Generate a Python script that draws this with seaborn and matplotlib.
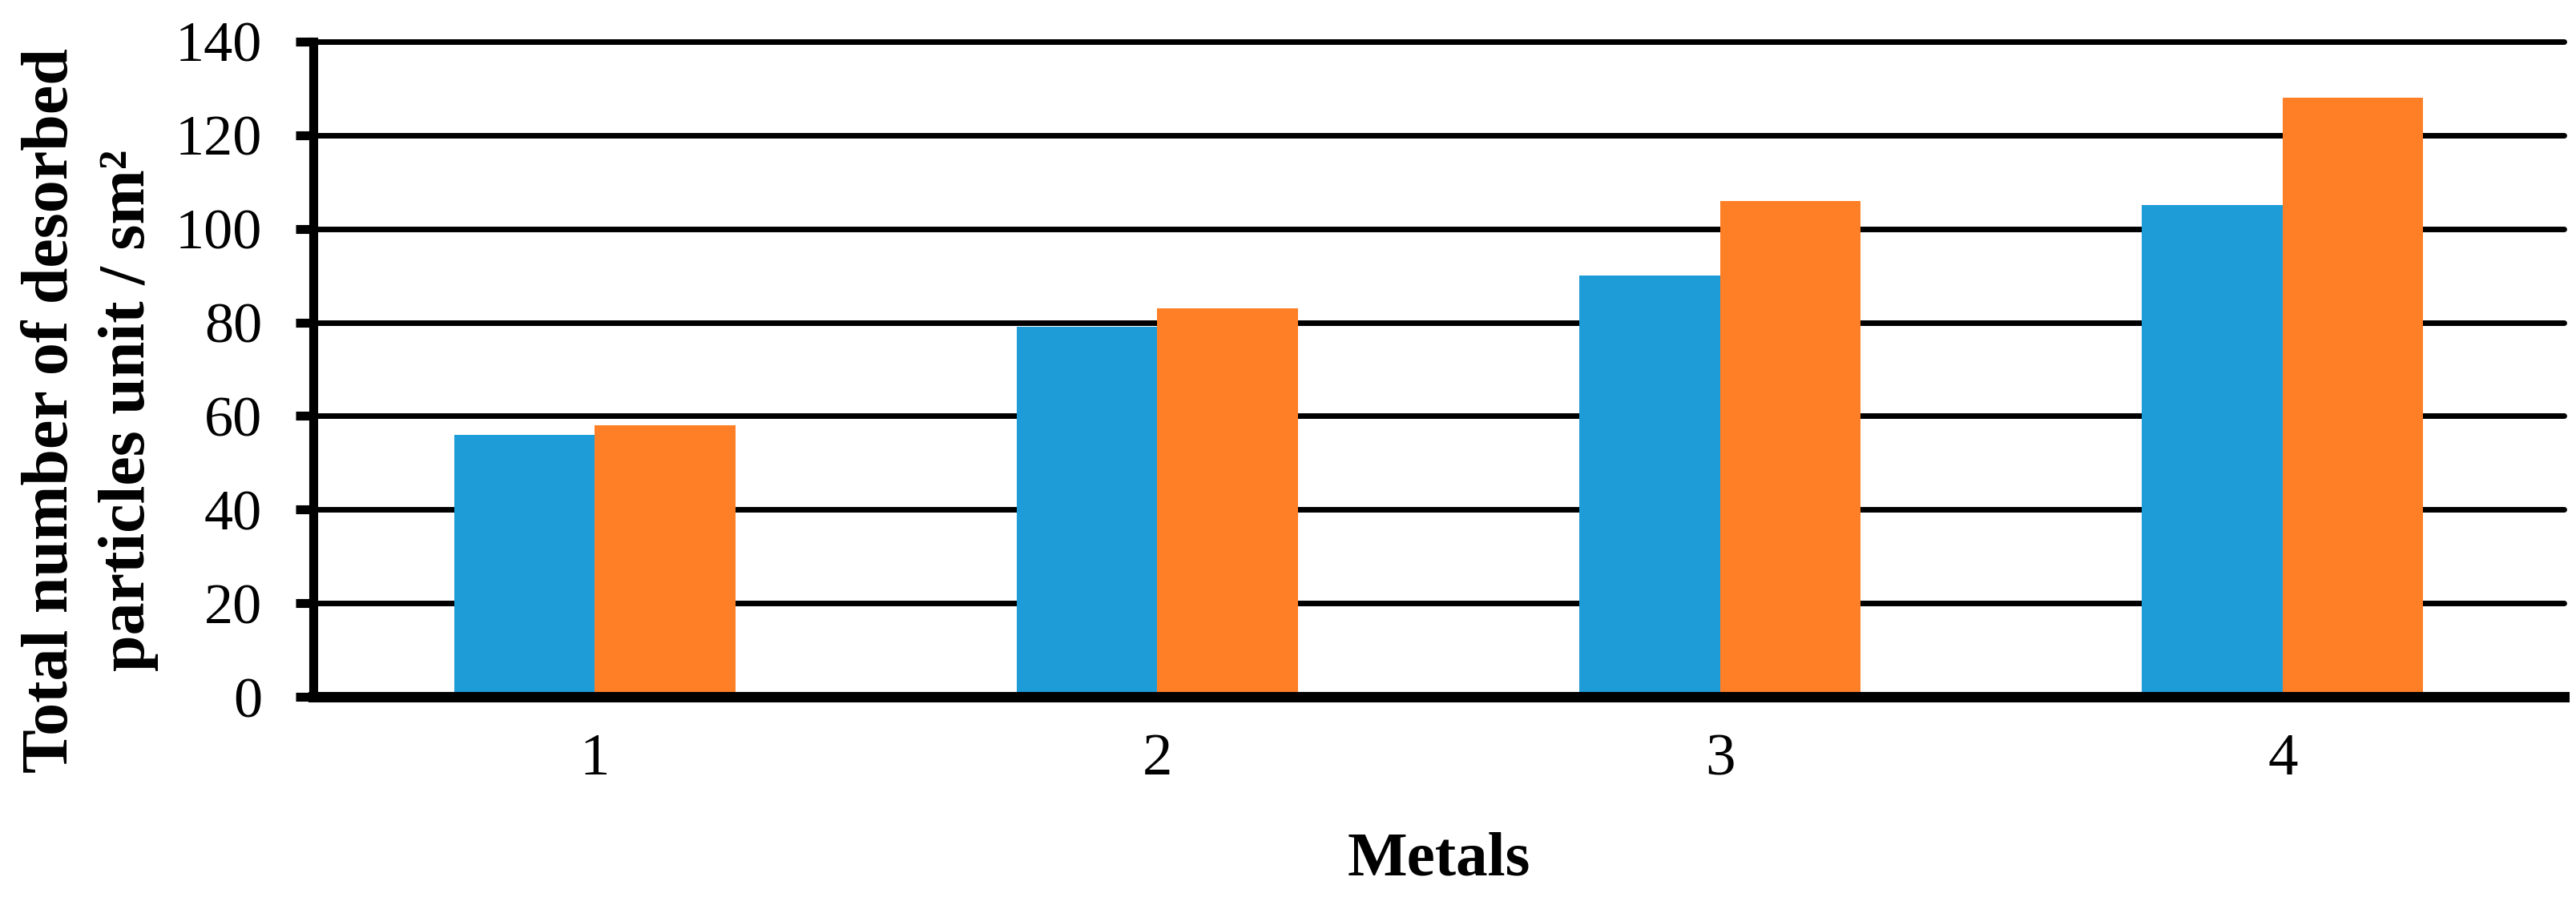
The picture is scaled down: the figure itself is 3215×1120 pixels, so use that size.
"""Plot total number of desorbed particles per metal"""
import matplotlib

matplotlib.use("Agg")
import matplotlib.pyplot as plt
import pandas as pd
import seaborn as sns

metals = ["1", "2", "3", "4"]
series_names = ["Series 1", "Series 2"]
series_1 = [56, 79, 90, 105]
series_2 = [58, 83, 106, 128]
y_ticks = [0, 20, 40, 60, 80, 100, 120, 140]
colors = ["#1E9CD8", "#FF7F27"]


def build_frame():
    """Long table for seaborn"""
    rows = {"Metal": [], "Series": [], "Value": []}
    for name, values in zip(series_names, [series_1, series_2]):
        for metal, value in zip(metals, values):
            rows["Metal"].append(metal)
            rows["Series"].append(name)
            rows["Value"].append(value)
    return pd.DataFrame(rows)


def plot_desorbed():
    """Plot desorbed particles"""
    sns.set_style("white")
    plt.rcParams["font.family"] = ["Liberation Serif", "DejaVu Serif"]
    for key in ["text.color", "axes.labelcolor", "xtick.color", "ytick.color"]:
        plt.rcParams[key] = "black"

    fig = plt.figure(figsize=(32.15, 11.2), dpi=100)
    ax = fig.add_axes([0.1216, 0.2232, 0.8737, 0.7304])

    df = build_frame()
    sns.barplot(
        data=df, x="Metal", y="Value", hue="Series", palette=colors,
        width=0.5, gap=0, saturation=1, legend=False, ax=ax,
        edgecolor="none", linewidth=0,
    )

    ax.set_xlim(-0.5, 3.5)
    ax.set_ylim(0, 140)
    ax.set_yticks(y_ticks)
    ax.set_axisbelow(True)
    ax.grid(axis="y", color="black", linewidth=5, clip_on=False)
    ax.grid(axis="x", visible=False)

    for side in ["top", "right"]:
        ax.spines[side].set_visible(False)
    ax.spines["left"].set_linewidth(8)
    ax.spines["bottom"].set_linewidth(9.4)
    ax.spines["left"].set_color("black")
    ax.spines["bottom"].set_color("black")

    ax.tick_params(axis="y", direction="out", length=16, width=8,
                   color="black", labelcolor="black", labelsize=52, pad=30,
                   left=True)
    ax.tick_params(axis="x", length=0, labelsize=54, pad=33, labelcolor="black")

    ax.set_xlabel("Metals", fontsize=57, fontweight="bold", labelpad=40)
    ax.set_ylabel("Total number of desorbed\nparticles unit / sm\u00b2",
                  fontsize=59, fontweight="bold", linespacing=1.36)
    ax.yaxis.set_label_coords(-0.0687, 0.437)

    fig.savefig("out.png", dpi=100)


plot_desorbed()
